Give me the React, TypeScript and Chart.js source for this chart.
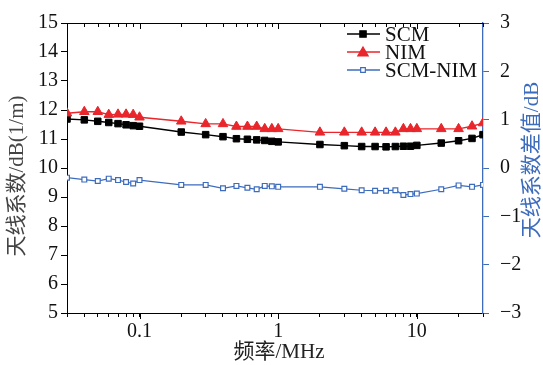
import { useEffect, useRef } from 'react';
import { Chart, registerables } from 'chart.js';

Chart.register(...registerables);

const frequencies = [0.03, 0.04, 0.05, 0.06, 0.07, 0.08, 0.09, 0.1, 0.2, 0.3, 0.4, 0.5, 0.6, 0.7, 0.8, 0.9, 1, 2, 3, 4, 5, 6, 7, 8, 9, 10, 15, 20, 25, 30];
const scmValues = [11.69, 11.66, 11.61, 11.57, 11.53, 11.49, 11.46, 11.44, 11.24, 11.15, 11.08, 11.01, 10.99, 10.97, 10.95, 10.92, 10.90, 10.81, 10.77, 10.74, 10.74, 10.73, 10.74, 10.75, 10.75, 10.78, 10.86, 10.94, 11.02, 11.15];
const nimValues = [11.89, 11.94, 11.94, 11.84, 11.85, 11.85, 11.84, 11.75, 11.61, 11.52, 11.52, 11.43, 11.43, 11.43, 11.35, 11.35, 11.35, 11.23, 11.23, 11.23, 11.23, 11.23, 11.23, 11.35, 11.35, 11.35, 11.35, 11.35, 11.44, 11.55];
const diffValues = [-0.20, -0.24, -0.27, -0.22, -0.25, -0.29, -0.32, -0.25, -0.35, -0.35, -0.42, -0.37, -0.41, -0.44, -0.37, -0.38, -0.39, -0.39, -0.43, -0.46, -0.47, -0.47, -0.46, -0.56, -0.54, -0.53, -0.44, -0.36, -0.39, -0.35];

const xTickValues = [0.03, 0.04, 0.05, 0.06, 0.07, 0.08, 0.09, 0.1, 0.2, 0.3, 0.4, 0.5, 0.6, 0.7, 0.8, 0.9, 1, 2, 3, 4, 5, 6, 7, 8, 9, 10, 20, 30];
const xLabelValues = [0.1, 1, 10];
const seriesNames = ['SCM', 'NIM', 'SCM-NIM'];
const xTitle = '频率/MHz';
const leftTitle = '天线系数/dB(1/m)';
const rightTitle = '天线系数差值/dB';

const FONT = "'Liberation Serif', 'Noto Sans CJK SC', serif";
const BLUE = '#3d6cbd';
const RED = '#e8262b';

function drawMarker(ctx: CanvasRenderingContext2D, style: string, x: number, y: number, r: number, fill: string, stroke: string) {
  ctx.save();
  ctx.beginPath();
  if (style === 'triangle') {
    ctx.moveTo(x, y - r);
    ctx.lineTo(x + r * 0.866, y + r * 0.5);
    ctx.lineTo(x - r * 0.866, y + r * 0.5);
    ctx.closePath();
  } else {
    const s = r * Math.SQRT1_2;
    ctx.rect(x - s, y - s, 2 * s, 2 * s);
  }
  ctx.fillStyle = fill;
  ctx.fill();
  ctx.strokeStyle = stroke;
  ctx.lineWidth = 1.2;
  ctx.stroke();
  ctx.restore();
}

export default function App() {
  const ref = useRef<HTMLCanvasElement>(null);

  useEffect(() => {
    if (!ref.current) return;
    const decor = {
      id: 'decor',
      afterDraw(chart: any) {
        const { ctx, chartArea: a } = chart;
        const xs = chart.scales.x;
        ctx.save();
        ctx.strokeStyle = '#000';
        ctx.lineWidth = 1;
        ctx.beginPath();
        ctx.moveTo(a.left, a.top + 0.5);
        ctx.lineTo(a.right, a.top + 0.5);
        ctx.stroke();
        xTickValues.forEach((v) => {
          const px = Math.round(xs.getPixelForValue(v)) + 0.5;
          const major = xLabelValues.includes(v);
          const len = major ? 6 : 4;
          ctx.beginPath();
          ctx.moveTo(px, a.top);
          ctx.lineTo(px, a.top + len);
          ctx.stroke();
          if (major) {
            ctx.beginPath();
            ctx.moveTo(px, a.bottom);
            ctx.lineTo(px, a.bottom + 6);
            ctx.stroke();
          }
        });
        ctx.font = `21px ${FONT}`;
        ctx.textAlign = 'center';
        ctx.textBaseline = 'middle';
        ctx.fillStyle = '#222';
        ctx.fillText(xTitle, (a.left + a.right) / 2 + 4, 352);
        ctx.save();
        ctx.translate(17, (a.top + a.bottom) / 2 + 8);
        ctx.rotate(-Math.PI / 2);
        ctx.fillStyle = '#444';
        ctx.fillText(leftTitle, 0, 0);
        ctx.restore();
        ctx.save();
        ctx.translate(532, (a.top + a.bottom) / 2 - 8);
        ctx.rotate(-Math.PI / 2);
        ctx.fillStyle = BLUE;
        ctx.fillText(rightTitle, 0, 0);
        ctx.restore();
        const rows = [34, 52, 70];
        const styles = [
          { c: '#000', fill: '#000', p: 'rect', r: 4.5 },
          { c: RED, fill: RED, p: 'triangle', r: 6 },
          { c: BLUE, fill: '#fff', p: 'rect', r: 3.3 },
        ];
        ctx.textAlign = 'left';
        ctx.font = `21px ${FONT}`;
        rows.forEach((y, i) => {
          const st = styles[i];
          ctx.strokeStyle = st.c;
          ctx.lineWidth = 1.3;
          ctx.beginPath();
          ctx.moveTo(347, y);
          ctx.lineTo(380, y);
          ctx.stroke();
          drawMarker(ctx, st.p, 363, y + (st.p === 'triangle' ? 1 : 0), st.r, st.fill, st.c);
          ctx.fillStyle = '#111';
          ctx.fillText(seriesNames[i], 385, y + 1);
        });
        ctx.restore();
      },
    };

    const chart = new Chart(ref.current, {
      type: 'line',
      data: {
        datasets: [
          {
            label: seriesNames[2],
            data: frequencies.map((f, i) => ({ x: f, y: diffValues[i] })),
            yAxisID: 'y1',
            borderColor: BLUE,
            backgroundColor: '#fff',
            pointBackgroundColor: '#fff',
            pointBorderColor: BLUE,
            pointBorderWidth: 1.2,
            pointStyle: 'rect',
            pointRadius: 3.4,
            borderWidth: 1.2,
          },
          {
            label: seriesNames[1],
            data: frequencies.map((f, i) => ({ x: f, y: nimValues[i] })),
            yAxisID: 'y',
            borderColor: RED,
            backgroundColor: RED,
            pointStyle: 'triangle',
            pointRadius: 5.5,
            pointBorderWidth: 1,
            borderWidth: 1.4,
          },
          {
            label: seriesNames[0],
            data: frequencies.map((f, i) => ({ x: f, y: scmValues[i] })),
            yAxisID: 'y',
            borderColor: '#000',
            backgroundColor: '#000',
            pointStyle: 'rect',
            pointRadius: 4.6,
            pointBorderWidth: 1,
            borderWidth: 1.4,
          },
        ],
      },
      options: {
        animation: false,
        responsive: false,
        layout: { padding: { top: 17, left: 0, right: 0, bottom: 0 } },
        plugins: { legend: { display: false }, tooltip: { enabled: false } },
        scales: {
          x: {
            type: 'logarithmic',
            position: 'bottom',
            min: 0.03,
            max: 30,
            afterBuildTicks: (s: any) => {
              s.ticks = xTickValues.map((v) => ({ value: v }));
            },
            afterFit: (s: any) => {
              s.height = 52;
            },
            grid: { drawOnChartArea: false, drawTicks: true, tickLength: 4, color: '#000' },
            border: { color: '#000', width: 1 },
            ticks: {
              autoSkip: false,
              maxRotation: 0,
              padding: 3,
              color: '#111',
              font: { family: FONT, size: 20 },
              callback: (v: any) => (xLabelValues.includes(Number(v)) ? String(v) : ''),
            },
          },
          y: {
            type: 'linear',
            position: 'left',
            min: 5,
            max: 15,
            afterFit: (s: any) => {
              s.width = 67;
            },
            grid: { drawOnChartArea: false, tickLength: 6, color: '#000' },
            border: { color: '#000', width: 1 },
            ticks: {
              stepSize: 1,
              padding: 3,
              color: '#111',
              font: { family: FONT, size: 20 },
            },
          },
          y1: {
            type: 'linear',
            position: 'right',
            min: -3,
            max: 3,
            afterFit: (s: any) => {
              s.width = 60;
            },
            grid: { drawOnChartArea: false, tickLength: 6, color: BLUE },
            border: { color: BLUE, width: 1.3 },
            ticks: {
              stepSize: 1,
              padding: 11,
              color: '#111',
              font: { family: FONT, size: 20 },
              callback: (v: any) => (Number(v) < 0 ? '\u2212' + Math.abs(Number(v)) : String(v)),
            },
          },
        },
      },
      plugins: [decor],
    } as any);
    return () => chart.destroy();
  }, []);

  return (
    <div style={{ position: 'fixed', left: 0, top: 0, width: 543, height: 365, background: '#fff' }}>
      <canvas ref={ref} width={543} height={365} style={{ display: 'block' }} />
    </div>
  );
}
